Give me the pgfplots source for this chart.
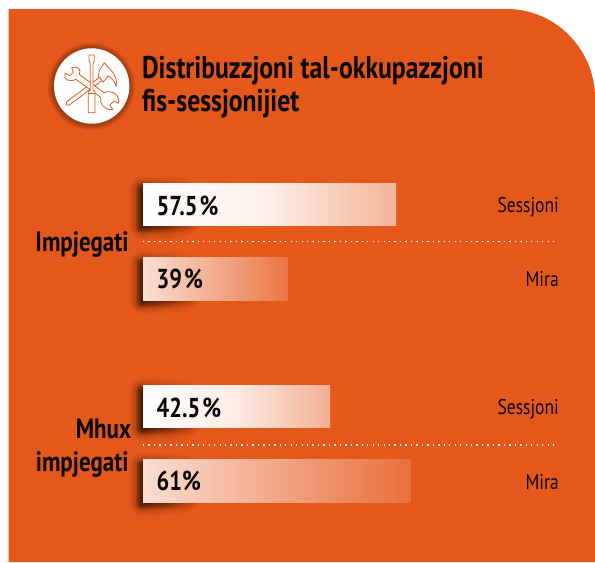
\documentclass[border=0pt]{standalone}
\usepackage{fontspec}
\setmainfont[FakeStretch=0.82]{PT Sans}
\usepackage{pgfplots}
\pgfplotsset{compat=1.18}
\usetikzlibrary{fadings}
\definecolor{bg}{HTML}{E5581B}
\definecolor{txt}{HTML}{0A0705}
\tikzfading[name=shfade, left color=transparent!0, right color=transparent!100]
% one soft shadow: #1 = y centre in px, #2 = length
\newcommand\shadowbar[2]{%
  \pgfplotsinvokeforeach{12,11,10,9,8,7}{%
    \addplot[xbar, forget plot, bar shift=0pt, draw=none, fill=black, fill opacity=0.035,
      rounded corners=##1*0.75pt, bar width={(42.5+2*##1-4)*0.75pt},
      path fading=shfade, xshift={-(##1+1)*0.75pt}, yshift=-2.6pt]
      coordinates {(#2,#1)};
  }%
  \pgfplotsinvokeforeach{6,5,4,3,2,1,0}{%
    \addplot[xbar, forget plot, bar shift=0pt, draw=none, fill=black, fill opacity=0.13,
      rounded corners=##1*0.75pt, bar width={(42.5+2*##1-4)*0.75pt},
      path fading=shfade, xshift={-(##1+1)*0.75pt}, yshift=-2.6pt]
      coordinates {(#2,#1)};
  }%
}
\begin{document}
\begin{tikzpicture}[x=0.75pt,y=-0.75pt,every node/.style={text=txt, inner sep=0pt, outer sep=0pt}]
\useasboundingbox (0,0) rectangle (595,562);
\fill[white] (0,0) rectangle (595,562);
\fill[bg] (8.7,562) -- (8.7,9) -- (507,9) .. controls (556,9) and (595,50) .. (595,98) -- (595,562) -- cycle;
% icon
\foreach \k in {6,5,4,3,2,1}
  \fill[black,opacity=.06] (91.3,86.3) circle[radius=37.7+\k];
\fill[white] (91.7,86) circle[radius=37.7];
\begin{scope}[shift={(45,40)},x=0.25pt,y=-0.25pt,draw=bg,line width=0.6pt,line join=round,fill=white]
  \filldraw (65,185) -- (170,107) -- (177,117) -- (72,196) .. controls (66,199) and (61,192) .. (65,185) -- cycle;
  \filldraw (163,92) -- (178,68) -- (192,85) .. controls (208,98) and (217,118) .. (214,140) .. controls (208,122) and (198,112) .. (189,108) -- (175,126) -- (160,108) -- cycle;
  \filldraw (80,83) -- (85,97) -- (75,107) -- (60,100) .. controls (54,118) and (72,128) .. (93,118) -- (167,172) .. controls (162,192) and (180,212) .. (203,208) -- (195,195) -- (207,183) -- (220,190) .. controls (228,166) and (200,148) .. (177,158) -- (103,103) .. controls (110,88) and (98,76) .. (80,83) -- cycle;
  \filldraw (132,45) -- (148,45) -- (148,62) -- (144,72) -- (144,150) -- (150,155) -- (150,218) -- (130,218) -- (130,155) -- (136,150) -- (136,72) -- (132,62) -- cycle;
  \draw (130,160) -- (150,160);
\end{scope}
\begin{axis}[
  at={(0,0)}, anchor=north west, scale only axis,
  width=446.25pt, height=421.5pt,
  hide axis, clip=false,
  xmin=-32.5, xmax=102.727, ymin=0, ymax=562, y dir=reverse,
]
\shadowbar{204.3}{14}
\shadowbar{279}{14}
\shadowbar{406.5}{14}
\shadowbar{481}{14}
% bars: drawn lengths as in the reference
\addplot[xbar, forget plot, bar shift=0pt, bar width=31.9pt, draw=none, left color=white, right color=white!55!bg, middle color=white!90!bg] coordinates {(57.5,204.3)};
\addplot[xbar, forget plot, bar shift=0pt, bar width=31.9pt, draw=none, left color=white!80!bg, right color=white!17!bg, middle color=white!50!bg] coordinates {(33,279)};
\addplot[xbar, forget plot, bar shift=0pt, bar width=31.9pt, draw=none, left color=white, right color=white!52!bg, middle color=white!88!bg] coordinates {(42.5,406.5)};
\addplot[xbar, forget plot, bar shift=0pt, bar width=31.9pt, draw=none, left color=white!80!bg, right color=white!14!bg, middle color=white!47!bg] coordinates {(60.8,481)};
% dotted separators
\addplot[white, line width=1.1pt, dash pattern=on 1pt off 3.1pt, forget plot] coordinates {(0,241.7) (94.3,241.7)};
\addplot[white, line width=1.1pt, dash pattern=on 1pt off 3.1pt, forget plot] coordinates {(0,445) (94.3,445)};
% labels
\node[anchor=base west, font=\fontsize{20.5}{20.5}\selectfont\bfseries] at (axis cs:3.1,215) {57.5\kern1.5pt\%};
\node[anchor=base west, font=\fontsize{20.5}{20.5}\selectfont\bfseries] at (axis cs:3.1,288.5) {39\kern1.5pt\%};
\node[anchor=base west, font=\fontsize{20.5}{20.5}\selectfont\bfseries] at (axis cs:3.1,417.5) {42.5\kern1.5pt\%};
\node[anchor=base west, font=\fontsize{20.5}{20.5}\selectfont\bfseries] at (axis cs:3.1,490.5) {61\%};
\node[anchor=base east, font=\fontsize{16}{16}\selectfont] at (axis cs:94.5,212) {Sessjoni};
\node[anchor=base east, font=\fontsize{16}{16}\selectfont] at (axis cs:94.5,286.5) {Mira};
\node[anchor=base east, font=\fontsize{16}{16}\selectfont] at (axis cs:94.5,414) {Sessjoni};
\node[anchor=base east, font=\fontsize{16}{16}\selectfont] at (axis cs:94.5,489.5) {Mira};
\node[anchor=base east, font=\fontsize{21}{21}\selectfont\bfseries] at (axis cs:-3.3,251) {Impjegati};
\node[anchor=base east, font=\fontsize{21}{21}\selectfont\bfseries] at (axis cs:-2.7,438) {Mhux};
\node[anchor=base east, font=\fontsize{21}{21}\selectfont\bfseries] at (axis cs:-3.3,471) {impjegati};
\node[anchor=base west, font=\fontsize{23.5}{23.5}\selectfont\bfseries] at (axis cs:-0.2,78) {Distribuzzjoni tal-okkupazzjoni};
\node[anchor=base west, font=\fontsize{23.5}{23.5}\selectfont\bfseries] at (axis cs:-0.2,111) {fis-sessjonijiet};
\end{axis}
\end{tikzpicture}
\end{document}
